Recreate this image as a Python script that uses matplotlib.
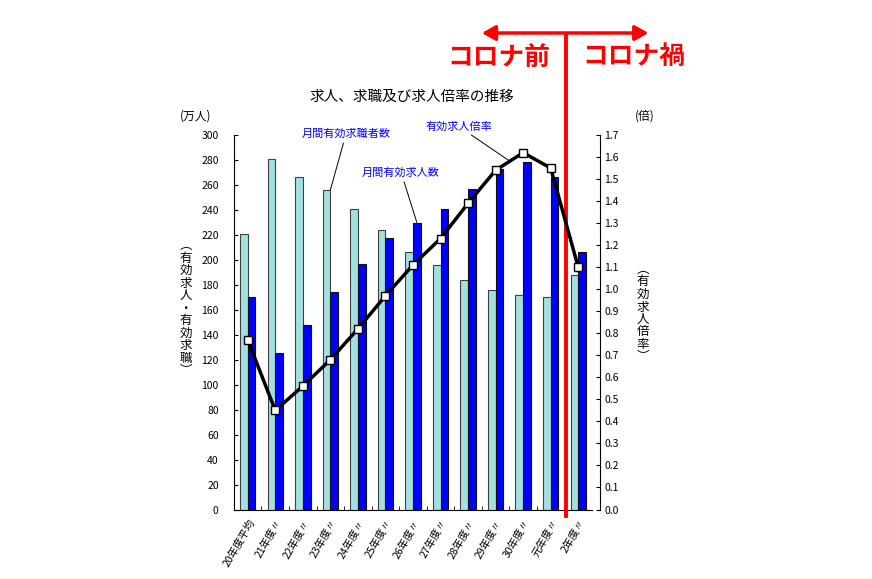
import numpy as np
import matplotlib
matplotlib.use('Agg')
import matplotlib.pyplot as plt
from matplotlib.transforms import blended_transform_factory

plt.rcParams['font.family'] = ['Noto Sans CJK JP', 'DejaVu Sans']

# data
years = ['20年度平均', '21年度〃', '22年度〃', '23年度〃', '24年度〃', '25年度〃', '26年度〃',
         '27年度〃', '28年度〃', '29年度〃', '30年度〃', '元年度〃', '2年度〃']
seekers = [221, 281, 266, 256, 241, 224, 206.5, 195.5, 184, 176, 171.5, 170.5, 187.5]   # 月間有効求職者数
openings = [170.5, 125.5, 148, 174, 197, 217.5, 229.5, 240.5, 256.5, 272.5, 278, 266, 206.5]  # 月間有効求人数
ratio = [0.77, 0.45, 0.56, 0.68, 0.82, 0.97, 1.11, 1.23, 1.39, 1.54, 1.62, 1.55, 1.10]  # 有効求人倍率

left_ticks = np.arange(0, 301, 20)
right_ticks = np.round(np.arange(0, 1.71, 0.1), 1)

fig = plt.figure(figsize=(8.72, 5.79), dpi=100)
ax = fig.add_axes([0.2683, 0.12, 0.4106, 0.6468])
x = np.arange(len(years))
w = 0.28

ax.bar(x - w / 2, seekers, width=w, color='#a3e0e0', edgecolor='#404040', linewidth=0.8, zorder=2)
ax.bar(x + w / 2, openings, width=w, color='#0000ff', edgecolor='#101010', linewidth=0.8, zorder=2)

ax.set_xlim(-0.5, len(years) - 0.5)
ax.set_ylim(0, 300)
ax.set_yticks(left_ticks)
ax.tick_params(axis='y', direction='in', length=3, labelsize=7.5, pad=11)
ax.set_xticks(x)
ax.set_xticklabels(years, rotation=60, ha='right', va='top', rotation_mode='anchor', fontsize=7.5)
ax.tick_params(axis='x', which='major', length=0, pad=6)
ax.set_xticks(x[:-1] + 0.5, minor=True)
ax.tick_params(axis='x', which='minor', direction='in', length=3)
ax.spines['top'].set_visible(False)
ax.spines['right'].set_visible(False)

ax2 = ax.twinx()
ax2.plot(x, ratio, color='black', linewidth=2.5, marker='s', markersize=5.5,
         markerfacecolor='white', markeredgecolor='black', markeredgewidth=1, zorder=3)
ax2.set_ylim(0, 1.7)
ax2.set_yticks(right_ticks)
ax2.set_yticklabels([f'{v:.1f}' for v in right_ticks])
ax2.tick_params(axis='y', direction='in', length=3, labelsize=7.5, pad=3)
ax2.spines['right'].set_position(('outward', 6))
ax2.spines['top'].set_visible(False)
ax2.spines['left'].set_visible(False)
ax2.spines['bottom'].set_visible(False)

# titles and axis labels
fig.text(0.4725, 0.8325, '求人、求職及び求人倍率の推移', ha='center', va='center', fontsize=10.5)
fig.text(0.224, 0.799, '(万人)', ha='center', va='center', fontsize=8.5)
fig.text(0.739, 0.799, '(倍)', ha='center', va='center', fontsize=8.5)
fig.text(0.213, 0.468, '\n'.join('︵有効求人・有効求職︶'), ha='center', va='center',
         fontsize=9, linespacing=0.95)
fig.text(0.737, 0.459, '\n'.join('︵有効求人倍率︶'), ha='center', va='center',
         fontsize=9, linespacing=0.95)

# callouts
ax.annotate('月間有効求職者数', xy=(3.0, 256), xytext=(3.57, 301), color='#0000ff',
            fontsize=8, ha='center', va='center', annotation_clip=False,
            arrowprops=dict(arrowstyle='-', color='black', linewidth=0.7, shrinkA=1, shrinkB=0))
ax.annotate('月間有効求人数', xy=(6.14, 230), xytext=(5.57, 270), color='#0000ff',
            fontsize=8, ha='center', va='center',
            arrowprops=dict(arrowstyle='-', color='black', linewidth=0.7, shrinkA=1, shrinkB=0))
ax2.annotate('有効求人倍率', xy=(9.46, 1.586), xytext=(7.65, 1.74), color='#0000ff',
             fontsize=8, ha='center', va='center', annotation_clip=False,
             arrowprops=dict(arrowstyle='-', color='black', linewidth=0.7, shrinkA=1, shrinkB=0))

# before / after covid markers
tr = blended_transform_factory(ax.transData, fig.transFigure)
ax.plot([11.55, 11.55], [0.109, 0.9396], color='#ff0000', linewidth=2.8, transform=tr,
        clip_on=False, zorder=10)
ax.annotate('', xy=(8.5, 0.943), xytext=(14.55, 0.943), xycoords=tr, textcoords=tr,
            arrowprops=dict(arrowstyle='<|-|>,head_length=0.8,head_width=0.45', color='#ff0000',
                            linewidth=2.5, shrinkA=0, shrinkB=0))
ax.text(9.12, 0.9016, 'コロナ前', transform=tr, color='#ff0000', fontsize=18.5,
        fontweight='bold', ha='center', va='center')
ax.text(14.03, 0.9016, 'コロナ禍', transform=tr, color='#ff0000', fontsize=18.5,
        fontweight='bold', ha='center', va='center')

fig.savefig('out.png', dpi=100)
